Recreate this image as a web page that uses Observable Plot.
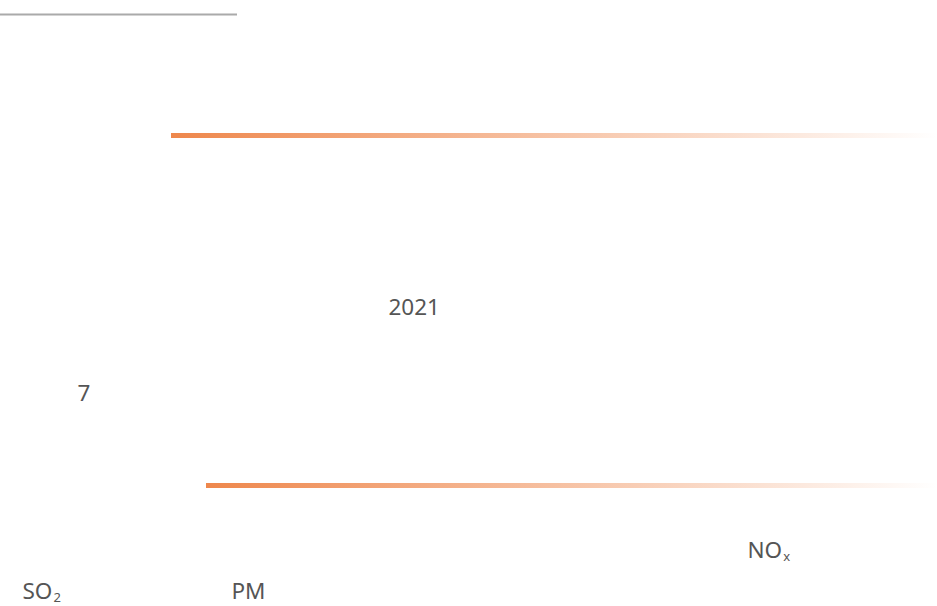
<!DOCTYPE html>
<html>
<head>
<meta charset="utf-8">
<script src="https://cdn.jsdelivr.net/npm/d3@7"></script>
<script src="https://cdn.jsdelivr.net/npm/@observablehq/plot@0.6"></script>
<style>
  html, body { margin: 0; padding: 0; background: #fff; }
  #chart svg { display: block; }
</style>
</head>
<body>
<div id="chart"></div>
<script>
// ---- data ----
const labels = ["2021", "7", "NOx", "SO2", "PM"];
const subscripts = ["", "", "x", "2", ""];
const bands = ["section-1", "section-2"];
const divider = ["top"];

// ---- layout (page units) ----
const W = 937, H = 606;
const labelX = [388, 77, 747, 22, 231];
const labelY = [314, 400, 557, 598, 598];
const bandX1 = [171, 206];
const bandY = [135.5, 485.5];

const textData = labels.map((t, i) => ({text: t, sub: subscripts[i], x: labelX[i], y: labelY[i]}));
const bandData = bands.map((b, i) => ({id: b, x1: bandX1[i], x2: W, y1: bandY[i] - 2.5, y2: bandY[i] + 2.5}));
const dividerData = divider.map(d => ({id: d, x1: 0, x2: 237, y: 14}));

const plot = Plot.plot({
  width: W,
  height: H,
  margin: 0,
  x: {domain: [0, W], range: [0, W], axis: null},
  y: {domain: [0, H], range: [0, H], axis: null},
  style: {background: "#fff", fontFamily: "'Noto Sans', sans-serif"},
  marks: [
    Plot.ruleY(dividerData, {y: "y", x1: "x1", x2: "x2", stroke: "#aaaaaa", strokeWidth: 2}),
    Plot.rect(bandData, {x1: "x1", x2: "x2", y1: "y1", y2: "y2", fill: "url(#bandGrad)"}),
    Plot.text(textData, {x: "x", y: "y", text: "text", textAnchor: "start", lineAnchor: "bottom",
      fontSize: 22.5, fill: "#555555", className: "lbl"})
  ]
});

// gradient definition
const svg = d3.select(plot);
const defs = svg.insert("defs", ":first-child");
const g = defs.append("linearGradient").attr("id", "bandGrad")
  .attr("x1", "0").attr("x2", "1").attr("y1", "0").attr("y2", "0");
g.append("stop").attr("offset", "0%").attr("stop-color", "#ee874c");
g.append("stop").attr("offset", "100%").attr("stop-color", "#ffffff");

// subscripts
svg.selectAll("text").each(function(d, i) {
  const el = d3.select(this);
  const idx = textData.findIndex(t => t.text === el.text());
  if (idx < 0) return;
  const row = textData[idx];
  if (!row.sub) return;
  const base = row.text.slice(0, row.text.length - row.sub.length);
  el.text(null);
  el.append("tspan").text(base);
  el.append("tspan").attr("font-size", 13).attr("dy", "0.25em").attr("dx", "1").text(row.sub);
});

document.getElementById("chart").appendChild(plot);
</script>
</body>
</html>
